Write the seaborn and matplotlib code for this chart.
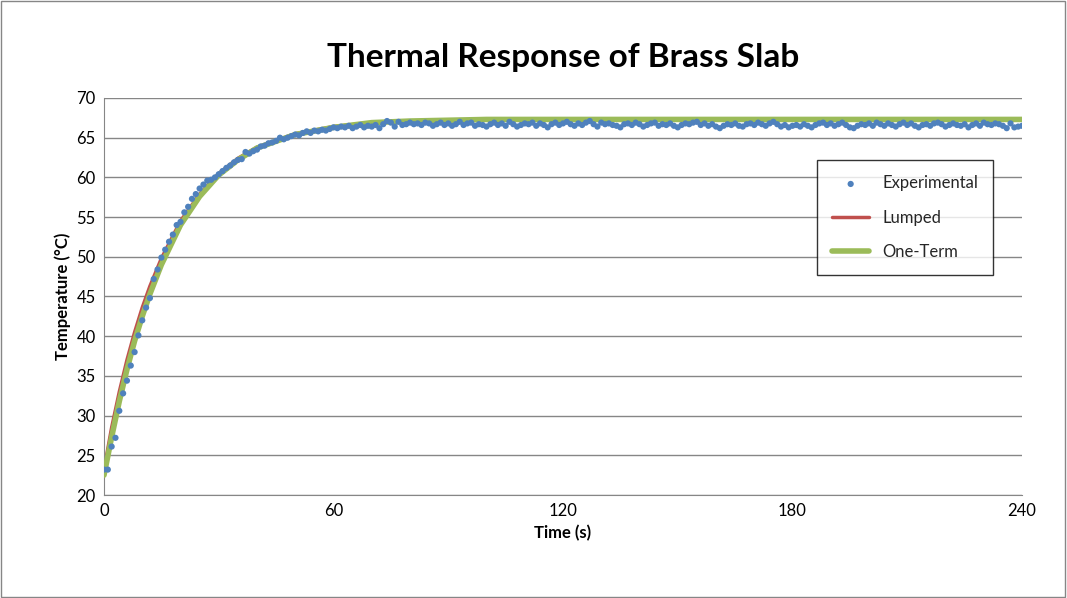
import numpy as np
import pandas as pd
import matplotlib.pyplot as plt
import seaborn as sns

sns.set_style("white")
plt.rcParams['font.family'] = ['Lato', 'DejaVu Sans']

exp_rise = [23.2, 23.2, 26.1, 27.2, 30.6, 32.8, 34.4, 36.3, 38.0, 40.1,
            42.0, 43.6, 44.8, 47.2, 48.4, 49.9, 50.9, 51.9, 52.8, 54.0,
            54.4, 55.6, 56.3, 57.3, 57.9, 58.6, 59.1, 59.6, 59.7, 60.0,
            60.4, 60.8, 61.2, 61.5, 61.9, 62.2, 62.3, 63.2, 63.0, 63.3,
            63.5, 63.9, 64.0, 64.3, 64.4, 64.6, 65.0, 64.8, 65.0, 65.2,
            65.4, 65.3, 65.6, 65.8, 65.6, 65.9, 65.8, 66.0, 65.9, 66.1]
exp_plateau = [66.3, 66.2, 66.4, 66.3, 66.5, 66.2, 66.4, 66.6, 66.3, 66.5,
               66.4, 66.6, 66.2, 66.7, 67.1, 66.9, 66.4, 67.0, 66.6, 66.7,
               66.9, 66.7, 66.8, 66.6, 66.9, 66.8, 66.5, 66.7, 66.9, 66.6,
               66.8, 66.5, 66.7, 67.0, 66.6, 66.8, 66.9, 66.5, 66.7, 66.6,
               66.4, 66.7, 66.9, 66.6, 66.8, 66.5, 67.0, 66.7, 66.4, 66.6,
               66.8, 66.7, 66.9, 66.5, 66.8, 66.6, 66.3, 66.7, 66.9, 66.6,
               66.8, 67.0, 66.7, 66.5, 66.8, 66.6, 66.9, 67.1, 66.7, 66.4,
               66.9, 66.7, 66.8, 66.6, 66.5, 66.3, 66.7, 66.8, 66.6, 66.9,
               66.7, 66.4, 66.6, 66.8, 66.9, 66.5, 66.7, 66.6, 66.8, 66.5,
               66.3, 66.6, 66.8, 66.7, 66.9, 67.0, 66.6, 66.8, 66.5, 66.7,
               66.4, 66.2, 66.5, 66.7, 66.6, 66.8, 66.5, 66.4, 66.7, 66.8,
               66.6, 66.9, 66.7, 66.5, 66.8, 67.0, 66.7, 66.4, 66.6, 66.3,
               66.5, 66.6, 66.4, 66.7, 66.5, 66.3, 66.6, 66.8, 66.9, 66.6,
               66.8, 66.5, 66.7, 66.9, 66.6, 66.3, 66.2, 66.5, 66.7, 66.6,
               66.8, 66.5, 66.9, 66.7, 66.5, 66.8, 66.6, 66.4, 66.7, 66.9,
               66.6, 66.8, 66.5, 66.3, 66.6, 66.7, 66.5, 66.8, 66.9, 66.7,
               66.4, 66.6, 66.8, 66.6, 66.5, 66.7, 66.3, 66.6, 66.8, 66.5,
               66.9, 66.7, 66.6, 66.8, 66.7, 66.5, 66.2, 66.8, 66.3, 66.4,
               66.5]
exp_temp = exp_rise + exp_plateau
exp_time = list(range(len(exp_temp)))

model_time = [0, 2, 4, 6, 8, 10, 12, 15, 20, 25, 30, 35, 40, 50, 60, 70, 80, 100, 240]
lumped = [23.2, 28.5, 33.0, 37.0, 40.5, 43.6, 46.3, 49.8, 54.5, 57.9,
          60.5, 62.4, 63.8, 65.5, 66.4, 66.9, 67.1, 67.3, 67.3]
one_term = [22.5, 27.3, 31.8, 35.8, 39.4, 42.5, 45.3, 49.0, 54.0, 57.6,
            60.3, 62.2, 63.7, 65.4, 66.3, 66.9, 67.1, 67.3, 67.3]

fig = plt.figure(figsize=(10.67, 5.98), dpi=100)
ax = fig.add_axes([104 / 1067, 1 - 495 / 598, 918 / 1067, 397 / 598])

sns.lineplot(x=model_time, y=lumped, ax=ax, color='#C0504D', lw=2.5, label='Lumped', zorder=2)
sns.lineplot(x=model_time, y=one_term, ax=ax, color='#9BBB59', lw=4, label='One-Term', zorder=3)
sns.scatterplot(x=exp_time, y=exp_temp, ax=ax, color='#4F81BD', s=20, edgecolor='none',
                label='Experimental', zorder=4)

ax.set_xlim(0, 240)
ax.set_ylim(20, 70)
ax.set_xticks([0, 60, 120, 180, 240])
ax.set_yticks(range(20, 71, 5))
ax.yaxis.grid(True, color='#868686', lw=1)
ax.set_axisbelow(True)
for s in ['top', 'right']:
    ax.spines[s].set_visible(False)
for s in ['left', 'bottom']:
    ax.spines[s].set_color('#868686')
ax.tick_params(labelsize=12, length=0, pad=6, labelcolor='black')
ax.set_xlabel('Time (s)', fontsize=12, fontweight='bold', color='black')
ax.set_ylabel('Temperature (\u00b0C)', fontsize=12, fontweight='bold', color='black')
ax.set_title('Thermal Response of Brass Slab', fontsize=24, fontweight='bold', pad=22, color='black')

h, l = ax.get_legend_handles_labels()
order = [l.index('Experimental'), l.index('Lumped'), l.index('One-Term')]
leg = ax.legend([h[i] for i in order], [l[i] for i in order], loc='upper left',
                bbox_to_anchor=(705 / 918, (495 - 152) / 397), fontsize=12,
                frameon=True, fancybox=False, edgecolor='black', labelspacing=1.1,
                borderpad=0.9, handlelength=2.2)
leg.get_frame().set_linewidth(1)

fig.patches.append(plt.Rectangle((0.001, 0.001), 0.997, 0.997, transform=fig.transFigure,
                                 fill=False, edgecolor='#868686', lw=1))
fig.savefig('out.png', dpi=100)
